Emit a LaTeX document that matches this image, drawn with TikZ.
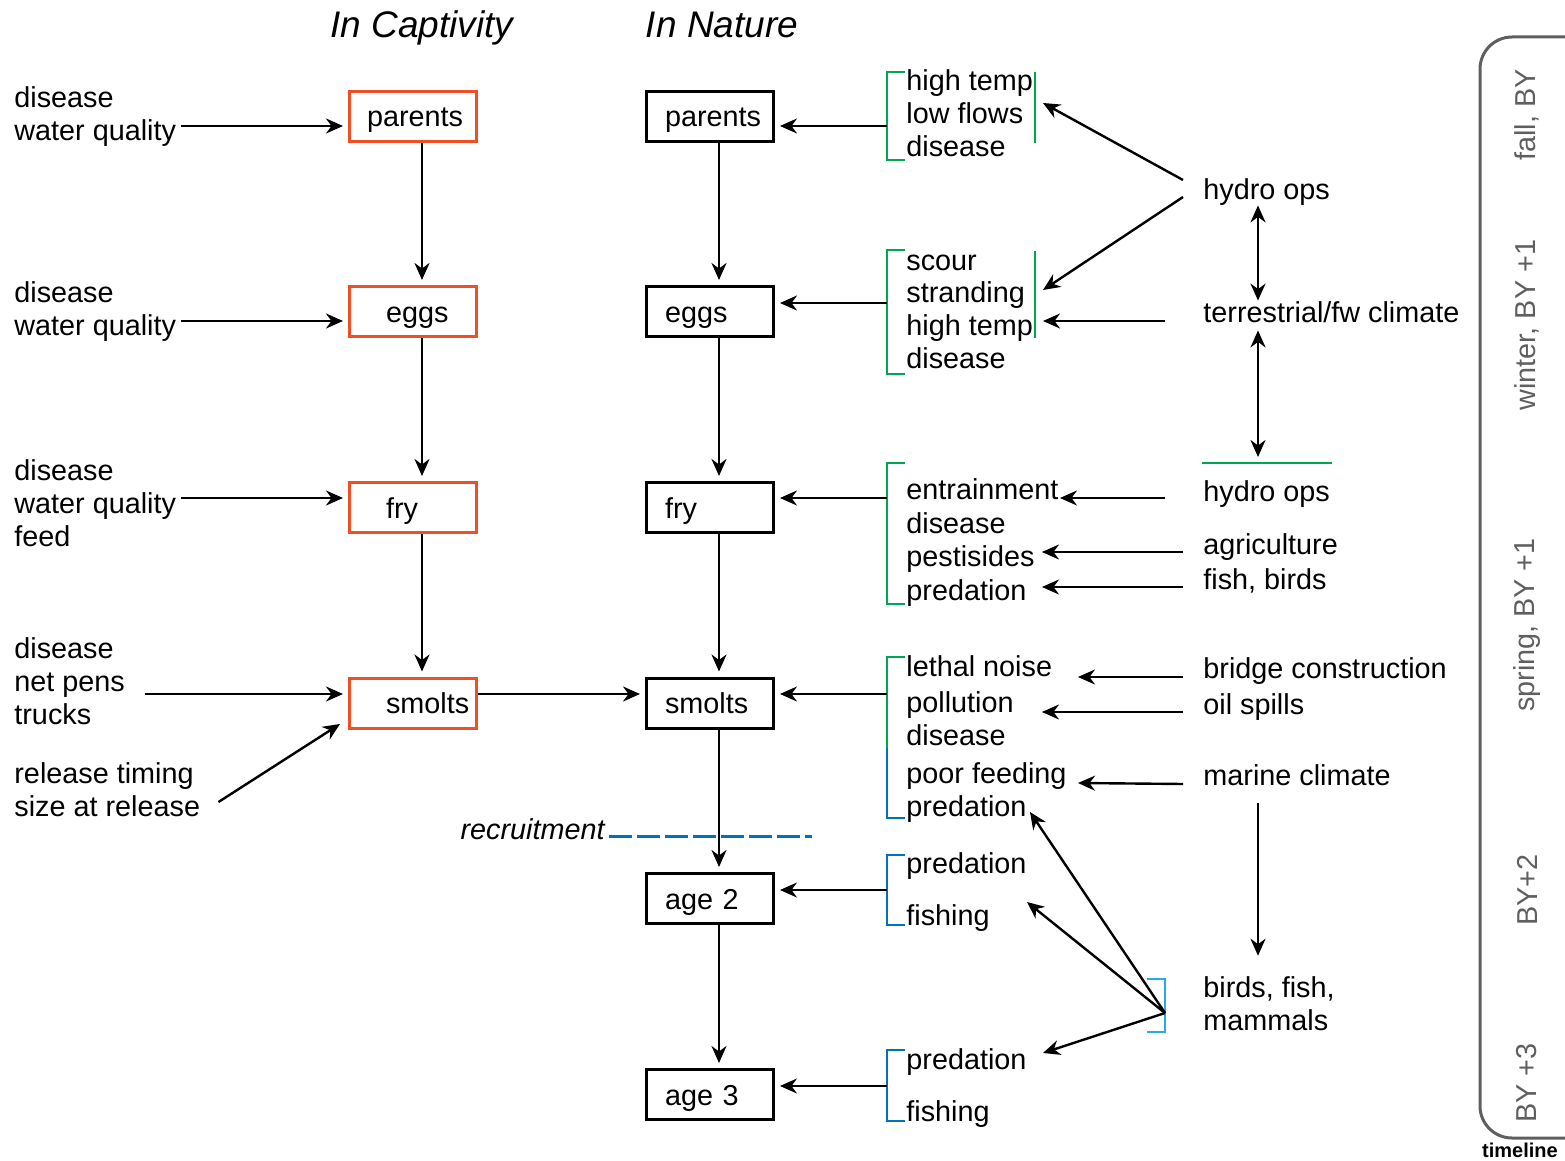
\documentclass[tikz,border=0pt]{standalone}
\usepackage{fontspec}
\setmainfont{Liberation Sans}
\usetikzlibrary{arrows.meta}
\hyphenpenalty=10000

\definecolor{capred}{RGB}{240,78,35}
\definecolor{brkgreen}{RGB}{0,166,81}
\definecolor{brkblue}{RGB}{0,114,188}
\definecolor{brkcyan}{RGB}{41,171,226}
\definecolor{tlgray}{RGB}{95,95,95}

\tikzset{
  lbl/.style={anchor=west, align=left, yshift=-2.25pt, execute at begin node=\strut, execute at end node=\strut},
  stagebox/.style={draw, line width=1.5pt, minimum height=25pt, text width=53.5pt, text height=10.5pt, text depth=0pt, inner xsep=5pt, inner ysep=0pt, align=left},
  capbox/.style={stagebox, draw=capred, execute at begin node={\hspace*{#1}}},
  capbox/.default=13.25pt,
  natbox/.style={stagebox, execute at begin node={\hspace*{4.25pt}}},
  arr/.style={-{Stealth[length=8.5pt, width=7.5pt]}, line width=1.2pt},
  thinarr/.style={arr, line width=0.75pt},
  dblarr/.style={{Stealth[length=8.5pt, width=7.5pt]}-{Stealth[length=8.5pt, width=7.5pt]}, line width=1.2pt},
  brk/.style={line width=1.3pt},
}

\begin{document}
\begin{tikzpicture}[x=0.5pt, y=-0.5pt, every node/.style={font=\fontsize{14.4}{16.5}\selectfont, inner sep=0pt}]
  \useasboundingbox (0,0) rectangle (1565,1161);

  % Column headings
  \node[anchor=base, font=\fontsize{18.5}{22}\selectfont\itshape] (hcap) at (422,37.6) {In Captivity};
  \node[anchor=base, font=\fontsize{18.5}{22}\selectfont\itshape] (hnat) at (722,37.6) {In Nature};

  % Captivity stages
  \node[capbox=3.75pt] (cparents) at (413,116.5) {parents};
  \node[capbox] (ceggs)   at (413,311.5) {eggs};
  \node[capbox] (cfry)    at (413,507.5) {fry};
  \node[capbox] (csmolts) at (413,703) {smolts};

  % Nature stages
  \node[natbox] (nparents) at (710,116.5) {parents};
  \node[natbox] (neggs)    at (710,311.5) {eggs};
  \node[natbox] (nfry)     at (710,507.5) {fry};
  \node[natbox] (nsmolts)  at (710,703) {smolts};
  \node[natbox] (nage2)    at (710,898.5) {age 2};
  \node[natbox] (nage3)    at (710,1094.5) {age 3};

  \foreach \a/\b in {cparents/ceggs, ceggs/cfry, cfry/csmolts, nparents/neggs, neggs/nfry, nfry/nsmolts, nsmolts/nage2, nage2/nage3}
    \draw[arr, shorten >=2.5pt] ([xshift=4.5pt]\a.south) -- ([xshift=4.5pt]\b.north);
  \draw[arr, shorten >=2.5pt] ([yshift=4.5pt]csmolts.east) -- ([yshift=4.5pt]nsmolts.west);

  % Hatchery factors
  \node[lbl] (lpar) at (14,114.5) {disease\\water quality};
  \node[lbl] (legg) at (14,309.5) {disease\\water quality};
  \node[lbl] (lfry) at (14,504) {disease\\water quality\\feed};
  \node[lbl] (lsmo) at (14,682) {disease\\net pens\\trucks};
  \node[lbl] (lrel) at (14,790.5) {release timing\\size at release};

  \foreach \n/\b/\dx/\dy in {lpar/cparents/5/7, legg/ceggs/5/7, lfry/cfry/5/-10.5, lsmo/csmolts/19.5/7.5}
    \draw[arr, shorten >=2.5pt] ([shift={(\dx,\dy)}]\n.east) coordinate (s\n) -- (s\n -| \b.west);
  \draw[arr] ([shift={(18,7)}]lrel.east) -- ([shift={(-8,-5.5)}]csmolts.south west);

  % Factor lists in nature
  \node[lbl] (tpar) at (906,113.7) {high temp\\low flows\\disease};
  \node[lbl, font=\fontsize{14.4}{16.35}\selectfont] (tegg) at (906,311.75) {scour\\stranding\\high temp\\disease};
  \node[lbl, font=\fontsize{14.4}{16.85}\selectfont] (tfry) at (906,540) {entrainment\\disease\\pestisides\\predation};
  \node[lbl] (tsmo) at (906,737) {lethal noise\\[1.5pt]pollution\\disease\\[2.5pt]poor feeding\\predation};
  \node[lbl] (tag2) at (906,890) {predation\\[9.5pt]fishing};
  \node[lbl] (tag3) at (906,1085.5) {predation\\[9.5pt]fishing};

  % Brackets
  \foreach \t/\b/\c in {72/160/brkgreen, 250/374/brkgreen, 463/604/brkgreen, 855/925/brkblue, 1050/1121/brkblue}
    \draw[brk, \c] (905,\t) -- (887,\t) -- (887,\b) -- (905,\b);
  \draw[brk, brkgreen] (905,657) -- (887,657) -- (887,748);
  \draw[brk, brkblue] (887,748) -- (887,818) -- (905,818);
  \draw[brk, brkgreen] (1035,72) -- (1035,143);
  \draw[brk, brkgreen] (1035,251) -- (1035,338);
  \draw[brk, brkcyan] (1147,979) -- (1165,979) -- (1165,1032) -- (1147,1032);

  \foreach \y/\n in {126/nparents, 303/neggs, 498/nfry, 694/nsmolts}
    \draw[arr, shorten >=2.5pt] (887,\y) coordinate (k\n) -- (k\n -| \n.east);
  \foreach \y/\n in {890/nage2, 1086/nage3}
    \draw[thinarr, shorten >=2.5pt] (887,\y) coordinate (k\n) -- (k\n -| \n.east);

  % Drivers
  \node[lbl] (hyd1) at (1203,188) {hydro ops};
  \node[lbl] (terr) at (1203,311) {terrestrial/fw climate};
  \node[lbl] (hyd2) at (1203,490) {hydro ops};
  \node[lbl] (agri) at (1203,543) {agriculture};
  \node[lbl] (fibi) at (1203,578) {fish, birds};
  \node[lbl] (brid) at (1203,667) {bridge construction};
  \node[lbl] (oils) at (1203,703) {oil spills};
  \node[lbl] (mari) at (1203,774) {marine climate};
  \node[lbl] (bfm)  at (1203,1004.5) {birds, fish,\\mammals};
  \draw[brk, brkgreen] (1202,463) coordinate (glA) -- (1332,463);

  % arrow tips at the factor lists
  \coordinate (vl)     at (1258,0);
  \coordinate (aHigh)  at (1043,103);
  \coordinate (aScour) at (1043,290);
  \coordinate (aTemp)  at (1043,321);
  \coordinate (aEntr)  at (1060,498);
  \coordinate (aPest)  at (1042,552);
  \coordinate (aPred)  at (1042,587);
  \coordinate (aNoise) at (1078,677);
  \coordinate (aPoll)  at (1042,712);
  \coordinate (aFeed)  at (1078,783);
  \coordinate (aSmPr)  at (1030,812);
  \coordinate (aFish2) at (1027,902);
  \coordinate (aPr3)   at (1043,1053);
  \coordinate (kBirds) at (1165,1013);

  \foreach \n/\dx/\dy/\t in {hyd1/-20/-12.5/aHigh, hyd1/-20/4.5/aScour, terr/-38/5.5/aTemp, hyd2/-38/3.5/aEntr, agri/-20/4.5/aPest, brid/-20/5.5/aNoise, oils/-20/4.5/aPoll, mari/-20/5.5/aFeed}
    \draw[arr] ([shift={(\dx,\dy)}]\n.west) -- (\t);
  \draw[thinarr] ([shift={(-20,4.5)}]fibi.west) -- (aPred);
  \foreach \t in {aSmPr, aFish2, aPr3}
    \draw[arr] (kBirds) -- (\t);

  \draw[dblarr, shorten <=-2pt, shorten >=-1pt] (hyd1.south -| vl) -- (terr.north -| vl);
  \draw[dblarr, shorten <=-1pt, shorten >=3pt] (terr.south -| vl) -- (glA -| vl);
  \draw[arr, shorten <=4pt, shorten >=10.5pt] (mari.south -| vl) -- (bfm.north -| vl);

  % Recruitment line
  \node[lbl, anchor=east, font=\fontsize{14.4}{16.5}\selectfont\itshape] (recr) at (605,828) {recruitment};
  \draw[brkblue, line width=1.5pt, dash pattern=on 11.5pt off 2.5pt] ([shift={(4,3.5)}]recr.east) -- ([shift={(207,3.5)}]recr.east);

  % Timeline
  \draw[tlgray, line width=1.5pt, rounded corners=16pt] (1480,37) rectangle (1650,1138);
  \foreach \y/\t in {115/{fall, BY}, 325/{winter, BY +1}, 625/{spring, BY +1}, 890/{BY+2}, 1083/{BY +3}}
    \node[rotate=90, text=tlgray] (tl\y) at (1527,\y) {\t};
  \node[font=\fontsize{10}{12}\selectfont\bfseries] (tlname) at (1520,1150) {timeline};
\end{tikzpicture}
\end{document}
